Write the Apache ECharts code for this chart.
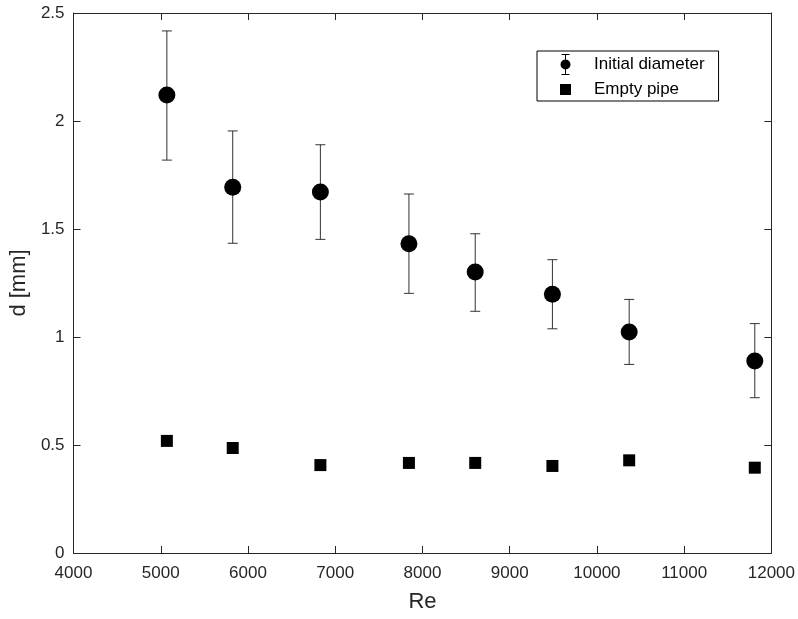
<!DOCTYPE html>
<html>
<head>
<meta charset="utf-8">
<script src="https://cdn.jsdelivr.net/npm/echarts@6/dist/echarts.min.js"></script>
<style>
  html, body { margin: 0; padding: 0; background: #fff; }
  #chart { width: 798px; height: 619px; }
</style>
</head>
<body>
<div id="chart"></div>
<script>
// data
const reValues = [5070, 5825, 6830, 7845, 8605, 9490, 10370, 11810];
const initialDiameter = [2.12, 1.693, 1.671, 1.432, 1.301, 1.198, 1.023, 0.889];
const errLow = [1.819, 1.434, 1.452, 1.202, 1.119, 1.038, 0.873, 0.719];
const errHigh = [2.417, 1.954, 1.890, 1.662, 1.478, 1.358, 1.174, 1.062];
const emptyPipe = [0.519, 0.486, 0.407, 0.417, 0.417, 0.403, 0.429, 0.395];

const axisColor = '#262626';
const fontFam = 'Liberation Sans, Arial, sans-serif';

const circleData = reValues.map((x, i) => [x, initialDiameter[i]]);
const squareData = reValues.map((x, i) => [x, emptyPipe[i]]);
const errData = reValues.map((x, i) => [x, errLow[i], errHigh[i]]);

// legend icons, 11x21 box: caps + stem + dot / plain square
const errIcon = 'path://M1.5,0H9.5V1H1.5Z M5,0H6V21H5Z M1.5,20H9.5V21H1.5Z M0.5,10.5A5,5 0 1 1 10.5,10.5A5,5 0 1 1 0.5,10.5Z';
const sqIcon = 'path://M0,0H10V10H0Z';

function baseAxis(extra) {
  return Object.assign({
    type: 'value',
    axisLine: { show: true, onZero: false, lineStyle: { color: axisColor, width: 1 } },
    axisTick: { show: true, inside: true, length: 7, lineStyle: { color: axisColor } },
    splitLine: { show: false },
    axisLabel: { color: axisColor, fontSize: 17, fontFamily: fontFam }
  }, extra);
}

const chart = echarts.init(document.getElementById('chart'));
chart.setOption({
  backgroundColor: '#fff',
  animation: false,
  grid: { left: 72, right: 25, top: 13, bottom: 66, containLabel: false },
  legend: {
    orient: 'vertical',
    left: 537,
    top: 51,
    borderColor: '#000',
    borderWidth: 1,
    padding: [3, 14, 3, 23],
    itemWidth: 11,
    itemHeight: 21,
    itemGap: 6,
    textStyle: { color: '#000', fontSize: 17, fontFamily: fontFam, padding: [0, 0, 0, 18] },
    data: [
      { name: 'Initial diameter', icon: errIcon },
      { name: 'Empty pipe', icon: sqIcon }
    ]
  },
  xAxis: [
    baseAxis({
      min: 4000, max: 12000, interval: 1000,
      name: 'Re', nameLocation: 'middle', nameGap: 38,
      nameTextStyle: { color: axisColor, fontSize: 22, fontFamily: fontFam },
      axisLabel: {
        color: axisColor, fontSize: 17, fontFamily: fontFam, margin: 12,
        formatter: function (v) { return String(v); }
      }
    }),
    baseAxis({
      position: 'top', min: 4000, max: 12000, interval: 1000,
      axisLabel: { show: false }
    })
  ],
  yAxis: [
    baseAxis({
      min: 0, max: 2.5, interval: 0.5,
      name: 'd [mm]', nameLocation: 'middle', nameGap: 40,
      nameTextStyle: { color: axisColor, fontSize: 22, fontFamily: fontFam },
      axisLabel: { color: axisColor, fontSize: 17, fontFamily: fontFam, margin: 9 }
    }),
    baseAxis({
      position: 'right', min: 0, max: 2.5, interval: 0.5,
      axisLabel: { show: false }
    })
  ],
  series: [
    {
      name: 'Initial diameter error',
      type: 'custom',
      xAxisIndex: 0, yAxisIndex: 0,
      data: errData,
      encode: { x: 0, y: [1, 2] },
      z: 1,
      renderItem: function (params, api) {
        const x = api.value(0);
        const lo = api.coord([x, api.value(1)]);
        const hi = api.coord([x, api.value(2)]);
        const half = 5;
        const style = { stroke: '#333', lineWidth: 1 };
        return {
          type: 'group',
          children: [
            { type: 'line', shape: { x1: lo[0], y1: lo[1], x2: hi[0], y2: hi[1] }, style: style },
            { type: 'line', shape: { x1: hi[0] - half, y1: hi[1], x2: hi[0] + half, y2: hi[1] }, style: style },
            { type: 'line', shape: { x1: lo[0] - half, y1: lo[1], x2: lo[0] + half, y2: lo[1] }, style: style }
          ]
        };
      }
    },
    {
      name: 'Initial diameter',
      type: 'scatter',
      data: circleData,
      symbol: 'circle',
      symbolSize: 17,
      itemStyle: { color: '#000', opacity: 1 },
      z: 3
    },
    {
      name: 'Empty pipe',
      type: 'scatter',
      data: squareData,
      symbol: 'rect',
      symbolSize: 12,
      itemStyle: { color: '#000', opacity: 1 },
      z: 3
    }
  ]
});
</script>
</body>
</html>
